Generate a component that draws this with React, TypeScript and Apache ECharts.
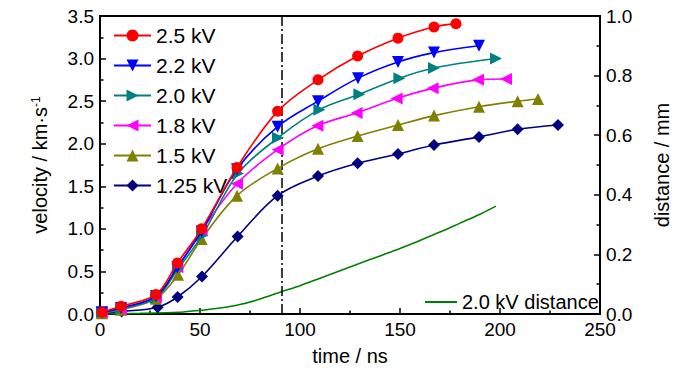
import React, { useEffect, useRef } from 'react';
import * as echarts from 'echarts';

const seriesNames = ['2.5 kV', '2.2 kV', '2.0 kV', '1.8 kV', '1.5 kV', '1.25 kV'];
const seriesColors = ['#ff0000', '#0000ff', '#008080', '#ff00ff', '#808000', '#000080'];

const t25 = [1, 10.5, 28, 38.7, 50.8, 68.5, 88.8, 109, 128.8, 149, 167, 178];
const v25 = [0.02, 0.09, 0.23, 0.6, 1.0, 1.72, 2.38, 2.75, 3.03, 3.24, 3.37, 3.41];

const t22 = [1, 10.5, 28, 38.7, 50.8, 68.5, 88.8, 109, 129, 149, 167, 189.5];
const v22 = [0.02, 0.07, 0.21, 0.55, 0.97, 1.7, 2.2, 2.5, 2.77, 2.96, 3.07, 3.15];

const t20 = [1, 10.5, 28, 39, 51, 69, 89, 109.7, 129.7, 149.7, 167, 198];
const v20 = [0.02, 0.06, 0.19, 0.53, 0.92, 1.65, 2.07, 2.4, 2.58, 2.77, 2.89, 3.0];

const t18 = [1, 10.5, 28, 38.7, 50.8, 68.5, 88.8, 108.7, 128.3, 148.3, 166.3, 189, 203];
const v18 = [0.02, 0.06, 0.2, 0.55, 0.98, 1.53, 1.93, 2.21, 2.36, 2.53, 2.65, 2.75, 2.76];

const t15 = [1, 10.5, 28, 39, 50.8, 68.5, 88.8, 109, 128.8, 149, 167, 189.5, 208.8, 219];
const v15 = [0.01, 0.05, 0.18, 0.46, 0.88, 1.39, 1.71, 1.94, 2.09, 2.22, 2.33, 2.435, 2.5, 2.525];

const t125 = [1, 10.8, 28.8, 38.8, 51, 68.8, 88.8, 109, 128.8, 149, 167, 189.5, 208.8, 229];
const v125 = [0.01, 0.03, 0.08, 0.2, 0.44, 0.91, 1.39, 1.62, 1.77, 1.88, 1.985, 2.08, 2.17, 2.22];

const distName = '2.0 kV distance';
const tDist = [0, 20, 40, 50, 60, 70, 80, 90, 100, 110, 120, 130, 140, 150, 160, 170, 180, 190, 198];
const dDist = [0, 0.002, 0.006, 0.012, 0.02, 0.032, 0.05, 0.073, 0.095, 0.12, 0.145, 0.17, 0.195, 0.22, 0.247, 0.275, 0.305, 0.335, 0.362];

const markerTime = 91;

const seriesT = [t25, t22, t20, t18, t15, t125];
const seriesV = [v25, v22, v20, v18, v15, v125];
const seriesSymbols = [
  'circle',
  'path://M0,0 L10,0 L5,9 Z',
  'path://M0,0 L9,5 L0,10 Z',
  'path://M9,0 L0,5 L9,10 Z',
  'triangle',
  'diamond',
];
const seriesSymbolSizes = [11, 12, 12, 12, 12, 12];

const FONT = '"Liberation Sans", Arial, sans-serif';

export default function App() {
  const ref = useRef<HTMLDivElement>(null);
  useEffect(() => {
    if (!ref.current) return;
    const chart = echarts.init(ref.current, undefined, { renderer: 'svg' });
    const velSeries: any[] = seriesNames.map((name, i) => ({
      name,
      type: 'line',
      xAxisIndex: 0,
      yAxisIndex: 0,
      smooth: 0.35,
      symbol: seriesSymbols[i],
      symbolSize: seriesSymbolSizes[i],
      color: seriesColors[i],
      lineStyle: { width: 1.6, color: seriesColors[i] },
      itemStyle: { color: seriesColors[i] },
      data: seriesT[i].map((t, j) => [t, seriesV[i][j]]),
      z: 10 - i,
    }));
    velSeries[0].markLine = {
      silent: true,
      symbol: ['none', 'none'],
      label: { show: false },
      lineStyle: { color: '#000', width: 1.5, type: [10, 3, 2, 3] },
      data: [{ xAxis: markerTime }],
    };
    const distSeries = {
      name: distName,
      type: 'line',
      xAxisIndex: 0,
      yAxisIndex: 1,
      smooth: 0.3,
      showSymbol: false,
      symbol: 'none',
      color: '#008000',
      lineStyle: { width: 1.6, color: '#008000' },
      data: tDist.map((t, j) => [t, dDist[j]]),
    };
    const tickCommon = {
      axisLine: { show: true, lineStyle: { color: '#000', width: 2 } },
      axisTick: { show: true, inside: true, length: 6, lineStyle: { color: '#000', width: 1.5 } },
      minorTick: { show: true, splitNumber: 2, length: 3.5, lineStyle: { color: '#000', width: 1.5 } },
      splitLine: { show: false },
      minorSplitLine: { show: false },
      axisLabel: { color: '#000', fontSize: 19, fontFamily: FONT },
      nameTextStyle: { color: '#000', fontSize: 20, fontFamily: FONT },
    };
    chart.setOption({
      animation: false,
      backgroundColor: '#fff',
      grid: { left: 100, right: 100, top: 16, bottom: 60, show: true, borderColor: '#000', borderWidth: 2, containLabel: false },
      legend: [
        {
          data: seriesNames,
          orient: 'vertical',
          left: 108,
          top: 20,
          itemWidth: 37,
          itemHeight: 15,
          itemGap: 9,
          textStyle: { color: '#000', fontSize: 21, fontFamily: FONT },
        },
        {
          data: [{ name: distName, icon: 'rect' }],
          orient: 'horizontal',
          left: 420,
          top: 287,
          itemWidth: 32,
          itemHeight: 2,
          textStyle: { color: '#000', fontSize: 20, fontFamily: FONT },
        },
      ],
      xAxis: {
        type: 'value',
        min: 0,
        max: 250,
        interval: 50,
        name: 'time / ns',
        nameLocation: 'middle',
        nameGap: 32,
        ...tickCommon,
        axisLabel: { ...tickCommon.axisLabel, margin: 6 },
      },
      yAxis: [
        {
          type: 'value',
          min: 0,
          max: 3.5,
          interval: 0.5,
          position: 'left',
          name: 'velocity / km·s{sup|-1}',
          nameLocation: 'middle',
          nameGap: 50,
          ...tickCommon,
          nameTextStyle: {
            ...tickCommon.nameTextStyle,
            rich: { sup: { fontSize: 12, fontFamily: FONT, color: '#000', verticalAlign: 'top', padding: [0, 0, 8, 0] } },
          },
          axisLabel: { ...tickCommon.axisLabel, margin: 6, formatter: (v: number) => v.toFixed(1) },
        },
        {
          type: 'value',
          min: 0,
          max: 1.0,
          interval: 0.2,
          position: 'right',
          name: 'distance / mm',
          nameLocation: 'middle',
          nameGap: 52,
          ...tickCommon,
          axisLabel: { ...tickCommon.axisLabel, margin: 6, formatter: (v: number) => v.toFixed(1) },
        },
      ],
      series: [...velSeries, distSeries],
    });
    return () => chart.dispose();
  }, []);
  return <div ref={ref} style={{ width: 700, height: 374, position: 'absolute', left: 0, top: 0 }} />;
}
